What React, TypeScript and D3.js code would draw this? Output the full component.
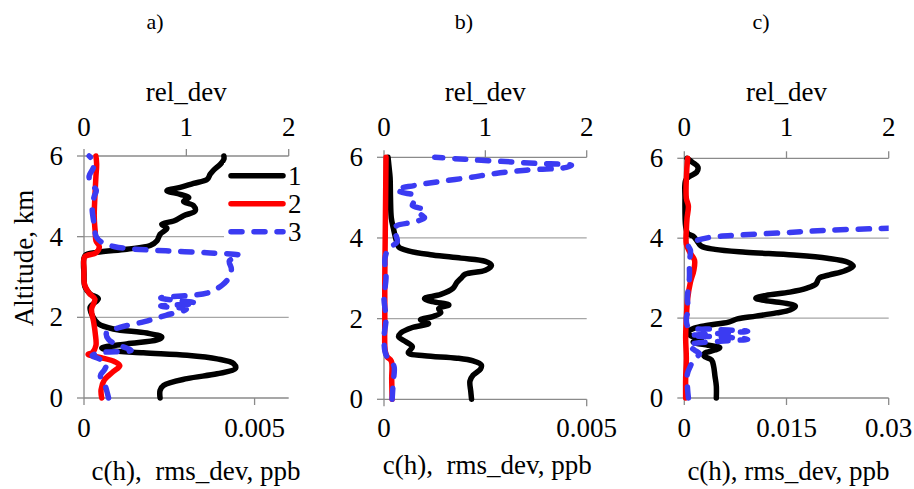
import React from 'react';
import * as d3 from 'd3';

// ---------- data ----------
// each point: [value, altitude km]; black/red on c(h) axis (bottom), blue on rel_dev axis (top)
type P = [number, number];

const panelTitles = ['a)', 'b)', 'c)'];
const altTicks = [0, 2, 4, 6];
const relTicks = [0, 1, 2];
const concTicksA = [0, 0.005];
const concTicksB = [0, 0.005];
const concTicksC = [0, 0.015, 0.03];
const concMax = [0.006, 0.005, 0.03];
const legendLabels = ['1', '2', '3'];

const aBlack: P[] = [
  [0.00223, 0], [0.00223, 0.19], [0.00233, 0.31], [0.00302, 0.48], [0.0039, 0.6], [0.00444, 0.73],
  [0.00439, 0.85], [0.0039, 0.97], [0.00302, 1.06], [0.00174, 1.12], [0.00076, 1.18], [0.00052, 1.24],
  [0.00125, 1.34], [0.00214, 1.44], [0.00228, 1.51], [0.00184, 1.61], [0.00086, 1.71], [0.00042, 1.84],
  [0.00027, 2.0], [0.00018, 2.25], [0.00042, 2.46], [0.00018, 2.58], [0.00003, 2.75], [0, 3.07],
  [0.00003, 3.53], [0.00037, 3.61], [0.00125, 3.69], [0.00194, 3.78], [0.00214, 3.9], [0.00223, 4.06],
  [0.00243, 4.21], [0.00228, 4.31], [0.00263, 4.39], [0.00292, 4.52], [0.00326, 4.64], [0.00321, 4.77],
  [0.00292, 4.87], [0.00307, 4.97], [0.00282, 5.05], [0.00243, 5.14], [0.00282, 5.22], [0.00321, 5.32],
  [0.00361, 5.42], [0.0037, 5.55], [0.0038, 5.65], [0.004, 5.8], [0.0041, 5.92], [0.0041, 6.0],
];
const aRed: P[] = [
  [0.00052, 0], [0.0005, 0.2], [0.0006, 0.45], [0.00085, 0.65], [0.00105, 0.8], [0.0009, 0.9],
  [0.0005, 1.0], [0.00012, 1.08], [0.00025, 1.13], [0.00035, 1.3], [0.00033, 1.6], [0.00028, 1.9],
  [0.00022, 2.2], [0.00032, 2.45], [0.00015, 2.6], [0.00002, 2.8], [0.0, 3.2], [0.00002, 3.5],
  [0.00035, 3.6], [0.00045, 3.75], [0.00035, 3.9], [0.00033, 4.1], [0.0003, 4.5], [0.00032, 5.0],
  [0.00035, 5.5], [0.00037, 5.8], [0.00035, 6.0],
];
const aBlue: P[] = [
  [0.24, 0], [0.22, 0.2], [0.2, 0.35], [0.16, 0.55], [0.2, 0.7], [0.22, 0.85], [0.15, 0.97],
  [0.08, 1.05], [0.15, 1.12], [0.46, 1.18], [0.35, 1.3], [0.24, 1.45], [0.22, 1.62], [0.35, 1.75],
  [0.6, 1.9], [0.8, 2.05], [1.0, 2.2], [0.75, 2.28], [1.1, 2.35], [0.75, 2.48], [1.2, 2.6],
  [1.35, 2.8], [1.42, 3.0], [1.44, 3.2], [1.42, 3.4], [1.52, 3.53], [1.2, 3.6], [0.8, 3.65],
  [0.45, 3.7], [0.3, 3.75], [0.18, 3.85], [0.12, 4.0], [0.1, 4.3], [0.08, 4.7], [0.1, 5.0],
  [0.12, 5.15], [0.07, 5.3], [0.05, 5.5], [0.09, 5.7], [0.1, 5.85], [0.05, 6.0],
];

const bBlack: P[] = [
  [0.00216, 0], [0.00214, 0.2], [0.00212, 0.45], [0.0022, 0.6], [0.00238, 0.75], [0.0024, 0.85],
  [0.0022, 0.95], [0.0018, 1.02], [0.001, 1.08], [0.0006, 1.15], [0.0007, 1.3], [0.00055, 1.42],
  [0.00036, 1.55], [0.00042, 1.65], [0.0007, 1.78], [0.0011, 1.88], [0.0009, 1.97], [0.0012, 2.05],
  [0.0014, 2.15], [0.00135, 2.25], [0.0016, 2.34], [0.0012, 2.42], [0.001, 2.5], [0.0014, 2.6],
  [0.0017, 2.75], [0.0018, 2.9], [0.0019, 3.0], [0.002, 3.1], [0.0025, 3.2], [0.00265, 3.32],
  [0.0025, 3.42], [0.0019, 3.5], [0.0012, 3.58], [0.0006, 3.68], [0.00036, 3.78], [0.0003, 3.95],
  [0.00024, 4.2], [0.00018, 4.5], [0.00016, 5.0], [0.00015, 5.5], [0.00012, 5.8], [0.0001, 6.0],
];
const bRed: P[] = [
  [0.0002, 0], [0.00019, 0.5], [0.00018, 0.95], [0.00008, 1.05], [0.00003, 1.2], [0.00002, 2.0],
  [0.00002, 3.0], [0.00003, 4.0], [0.00004, 5.0], [0.00005, 6.0],
];
const bBlue: P[] = [
  [0.08, 0], [0.09, 0.4], [0.1, 0.8], [0.07, 0.95], [0.02, 1.1], [0.0, 1.5], [0.02, 2.0], [0.0, 2.5],
  [0.02, 3.0], [0.01, 3.5], [0.05, 3.75], [0.13, 3.9], [0.12, 4.05], [0.09, 4.2], [0.12, 4.3],
  [0.3, 4.4], [0.4, 4.5], [0.36, 4.6], [0.4, 4.7], [0.28, 4.8], [0.3, 4.92], [0.3, 5.05],
  [0.18, 5.13], [0.12, 5.2], [0.3, 5.3], [0.55, 5.4], [0.85, 5.5], [1.1, 5.6], [1.4, 5.68],
  [1.8, 5.75], [1.85, 5.8], [1.5, 5.85], [1.15, 5.9], [0.8, 5.95], [0.5, 6.0],
];

const cBlack: P[] = [
  [0.0047, 0], [0.0047, 0.3], [0.0045, 0.55], [0.0043, 0.8], [0.004, 0.95], [0.0029, 1.05],
  [0.003, 1.12], [0.0045, 1.2], [0.0052, 1.26], [0.0035, 1.32], [0.0013, 1.4], [0.0025, 1.47],
  [0.001, 1.55], [0.0005, 1.65], [0.0015, 1.75], [0.0035, 1.82], [0.0065, 1.9], [0.0078, 1.98],
  [0.0105, 2.05], [0.0135, 2.13], [0.0155, 2.2], [0.0163, 2.3], [0.0145, 2.38], [0.0115, 2.45],
  [0.0105, 2.5], [0.012, 2.57], [0.0155, 2.65], [0.018, 2.75], [0.0193, 2.85], [0.0198, 3.0],
  [0.0213, 3.08], [0.0235, 3.18], [0.0248, 3.3], [0.024, 3.4], [0.021, 3.5], [0.016, 3.58],
  [0.009, 3.65], [0.0045, 3.72], [0.0025, 3.8], [0.0018, 3.95], [0.0013, 4.05], [0.0005, 4.12],
  [0.0002, 4.3], [0.0001, 5.0], [0.0002, 5.45], [0.0008, 5.55], [0.0018, 5.65], [0.002, 5.78],
  [0.0012, 5.9], [0.0004, 6.0],
];
const cRed: P[] = [
  [0.0002, 0], [0.0002, 0.5], [0.0003, 1.0], [0.0002, 1.5], [0.0003, 2.0], [0.0005, 2.5],
  [0.0009, 2.9], [0.0014, 3.2], [0.0015, 3.45], [0.0008, 3.65], [0.0003, 3.85], [0.0003, 4.2],
  [0.0004, 4.5], [0.0006, 4.8], [0.0003, 5.0], [0.0003, 5.5], [0.0005, 6.0],
];
const cBlue: P[] = [
  [0.04, 0], [0.03, 0.3], [0.03, 0.6], [0.06, 0.8], [0.1, 1.0], [0.15, 1.1], [0.1, 1.2], [0.04, 1.32],
  [0.35, 1.42], [0.62, 1.47], [0.35, 1.53], [0.06, 1.56], [0.35, 1.62], [0.62, 1.67], [0.3, 1.72],
  [0.04, 1.78], [0.02, 2.0], [0.04, 2.2], [0.03, 2.5], [0.05, 3.0], [0.05, 3.4], [0.06, 3.7],
  [0.04, 3.82], [0.1, 3.92], [0.25, 4.02], [0.55, 4.08], [1.0, 4.14], [1.4, 4.2], [2.0, 4.25],
  [2.2, 4.27],
];

const blackSeries = [aBlack, bBlack, cBlack];
const redSeries = [aRed, bRed, cRed];
const blueSeries = [aBlue, bBlue, cBlue];
const concTicks = [concTicksA, concTicksB, concTicksC];

// ---------- layout ----------
const layout = [
  { x0: 84, x1: 288.7, y0: 156, y1: 398, titleX: 155, botTitleY: 480 },
  { x0: 384, x1: 586.7, y0: 157.3, y1: 399.3, titleX: 464, botTitleY: 474 },
  { x0: 684.3, x1: 888.7, y0: 158.3, y1: 398, titleX: 761, botTitleY: 480 },
];

const FONT = '"Liberation Serif", "Times New Roman", serif';
const FS = 27;
const AXIS = '#8a8a8a';
const GRID = '#a6a6a6';
const BLACK = '#000000';
const RED = '#ff0000';
const BLUE = '#3b3bf2';
const LW = 5.5;
const DASH = '11 12';

const fmt = (v: number) => (v === 0 ? '0' : String(v));

function Panel({ i }: { i: number }) {
  const L = layout[i];
  const y = d3.scaleLinear().domain([0, 6]).range([L.y1, L.y0]);
  const xc = d3.scaleLinear().domain([0, concMax[i]]).range([L.x0, L.x1]);
  const xr = d3.scaleLinear().domain([0, 2]).range([L.x0, L.x1]);
  const lineC = d3.line<P>().x(d => xc(d[0])).y(d => y(d[1])).curve(d3.curveCatmullRom.alpha(0.5));
  const lineR = d3.line<P>().x(d => xr(d[0])).y(d => y(d[1])).curve(d3.curveCatmullRom.alpha(0.5));
  const clipId = `clip${i}`;
  const xmid = (L.x0 + L.x1) / 2;
  return (
    <g>
      <defs>
        <clipPath id={clipId}>
          <rect x={L.x0 - 6} y={L.y0 - 6} width={L.x1 - L.x0 + 6} height={L.y1 - L.y0 + 12} />
        </clipPath>
      </defs>
      <text x={L.titleX} y={29} fontSize={22} textAnchor="middle">{panelTitles[i]}</text>
      {/* gridlines */}
      {altTicks.filter(t => t !== 0 && t !== 6).map(t => (
        <line key={'g' + t} x1={L.x0} x2={L.x1} y1={y(t)} y2={y(t)} stroke={GRID} strokeWidth={1.3} />
      ))}
      {/* left axis */}
      <line x1={L.x0} x2={L.x0} y1={L.y0} y2={L.y1} stroke={AXIS} strokeWidth={1.3} />
      {altTicks.map(t => (
        <g key={'lt' + t}>
          <line x1={L.x0 - 7} x2={L.x0} y1={y(t)} y2={y(t)} stroke={AXIS} strokeWidth={1.3} />
          <text x={L.x0 - 21} y={y(t) + 9} fontSize={FS} textAnchor="end">{t}</text>
        </g>
      ))}
      {/* top axis */}
      <line x1={L.x0} x2={L.x1} y1={L.y0} y2={L.y0} stroke={AXIS} strokeWidth={1.3} />
      {relTicks.map(t => (
        <g key={'tt' + t}>
          <line x1={xr(t)} x2={xr(t)} y1={L.y0 - 7} y2={L.y0} stroke={AXIS} strokeWidth={1.3} />
          <text x={xr(t)} y={136} fontSize={FS} textAnchor="middle">{t}</text>
        </g>
      ))}
      <text x={xmid} y={101} fontSize={FS} textAnchor="middle">rel_dev</text>
      {/* bottom axis */}
      <line x1={L.x0} x2={L.x1} y1={L.y1} y2={L.y1} stroke={AXIS} strokeWidth={1.3} />
      {concTicks[i].map(t => (
        <g key={'bt' + t}>
          <line x1={xc(t)} x2={xc(t)} y1={L.y1} y2={L.y1 + 7} stroke={AXIS} strokeWidth={1.3} />
          <text x={xc(t)} y={437} fontSize={FS} textAnchor="middle">{fmt(t)}</text>
        </g>
      ))}
      <text x={i === 0 ? 196 : xmid + 2} y={L.botTitleY} fontSize={FS} textAnchor="middle" style={{ whiteSpace: 'pre' }}>
        {i === 2 ? 'c(h), rms_dev, ppb' : 'c(h),  rms_dev, ppb'}
      </text>
      {/* series */}
      <g clipPath={`url(#${clipId})`} fill="none" strokeLinejoin="round" strokeLinecap="round">
        <path d={lineC(blackSeries[i]) || ''} stroke={BLACK} strokeWidth={LW} />
        <path d={lineC(redSeries[i]) || ''} stroke={RED} strokeWidth={LW} />
        <path d={lineR(blueSeries[i]) || ''} stroke={BLUE} strokeWidth={LW} strokeDasharray={DASH} />
      </g>
    </g>
  );
}

export default function App() {
  const legendColors = [BLACK, RED, BLUE];
  return (
    <svg width={914} height={489} style={{ position: 'absolute', left: 0, top: 0, background: '#fff' }}
      fontFamily={FONT} fill="#000">
      <rect x={0} y={0} width={914} height={489} fill="#fff" />
      {[0, 1, 2].map(i => <Panel key={i} i={i} />)}
      <text transform="translate(33,258) rotate(-90)" fontSize={FS} textAnchor="middle">Altitude, km</text>
      {/* legend */}
      <g>
        <rect x={224} y={163} width={80} height={80} fill="#fff" />
        {legendLabels.map((lab, k) => (
          <g key={lab}>
            <line x1={231} x2={283} y1={175.7 + k * 28} y2={175.7 + k * 28} stroke={legendColors[k]}
              strokeWidth={LW} strokeLinecap="round" strokeDasharray={k === 2 ? DASH : undefined} />
            <text x={288} y={175.7 + k * 28 + 9} fontSize={FS}>{lab}</text>
          </g>
        ))}
      </g>
    </svg>
  );
}
